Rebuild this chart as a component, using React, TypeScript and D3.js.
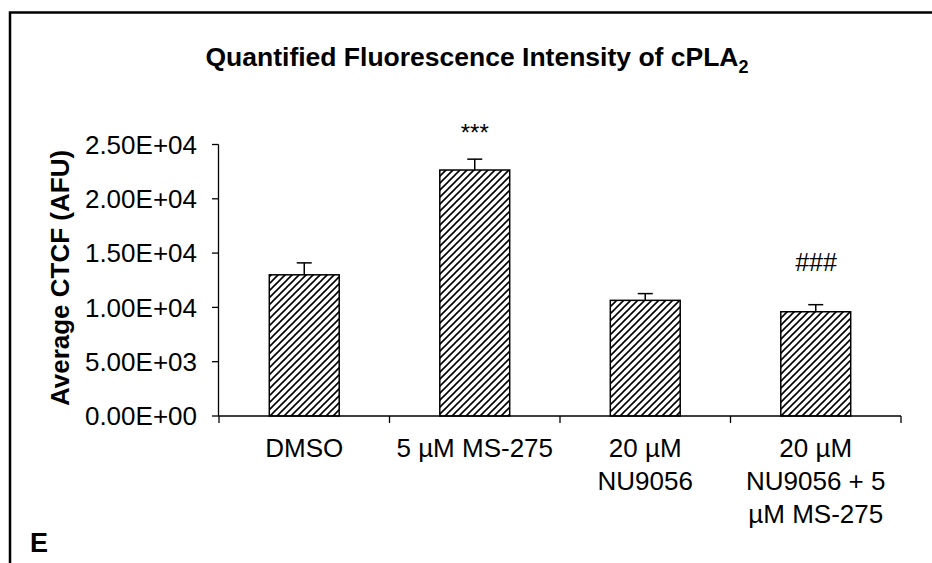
import React from "react";
import * as d3 from "d3";

const categories: string[][] = [
  ["DMSO"],
  ["5 µM MS-275"],
  ["20 µM", "NU9056"],
  ["20 µM", "NU9056 + 5", "µM MS-275"],
];
const categoryKeys = ["DMSO", "MS-275", "NU9056", "NU9056+MS-275"];
const means = [13000, 22650, 10650, 9600];
const errors = [1100, 1000, 620, 650];
const significance = ["", "***", "", "###"];
const yTicks = [0, 5000, 10000, 15000, 20000, 25000];

const W = 932;
const H = 563;
const FONT = "'Liberation Sans', Arial, Helvetica, sans-serif";

function sci(v: number): string {
  if (v === 0) return "0.00E+00";
  const e = Math.floor(Math.log10(Math.abs(v)));
  const m = v / Math.pow(10, e);
  const sign = e < 0 ? "-" : "+";
  const ee = String(Math.abs(e)).padStart(2, "0");
  return `${m.toFixed(2)}E${sign}${ee}`;
}

export default function App() {
  const x = d3
    .scaleBand<string>()
    .domain(categoryKeys)
    .range([219, 901])
    .paddingInner(0.59)
    .paddingOuter(0.295);
  const y = d3.scaleLinear().domain([0, 25000]).range([416, 144.5]);
  const step = x.step();
  const boundaries = d3.range(categoryKeys.length + 1).map((i) => 219 + i * step);

  return (
    <div style={{ position: "absolute", left: 0, top: 0, width: W, height: H, background: "#fff" }}>
      <svg width={W} height={H} style={{ display: "block" }} fontFamily={FONT}>
        <defs>
          <pattern id="hatch" width="7" height="7" patternUnits="userSpaceOnUse">
            <rect width="7" height="7" fill="#fff" />
            <path d="M-1,1 L1,-1 M0,7 L7,0 M6,8 L8,6" stroke="#000" strokeWidth="1.6" />
          </pattern>
        </defs>
        {/* frame */}
        <path d={`M10,${H + 5} L10,12.5 L${W + 5},12.5`} fill="none" stroke="#000" strokeWidth={2.5} />

        {/* title */}
        <text x={477} y={66} textAnchor="middle" fontWeight="bold" fontSize={26.5}>
          Quantified Fluorescence Intensity of cPLA
          <tspan fontSize={18} dy={7}>2</tspan>
        </text>

        {/* y axis */}
        <line x1={218.5} x2={218.5} y1={y(25000)} y2={y(0)} stroke="#000" strokeWidth={1.3} />
        {yTicks.map((t) => (
          <g key={t}>
            <line x1={212} x2={218.5} y1={y(t)} y2={y(t)} stroke="#000" strokeWidth={1.3} />
            <text x={197} y={y(t)} dy="0.36em" textAnchor="end" fontSize={26}>
              {sci(t)}
            </text>
          </g>
        ))}
        <text
          transform={`translate(69,278) rotate(-90)`}
          textAnchor="middle"
          fontWeight="bold"
          fontSize={26}
        >
          Average CTCF (AFU)
        </text>

        {/* bars */}
        {categoryKeys.map((k, i) => {
          const bx = x(k)!;
          const bw = x.bandwidth();
          const cx = bx + bw / 2;
          return (
            <g key={k}>
              <line x1={cx} x2={cx} y1={y(means[i])} y2={y(means[i] + errors[i])} stroke="#000" strokeWidth={1.5} />
              <line x1={cx - 7.5} x2={cx + 7.5} y1={y(means[i] + errors[i])} y2={y(means[i] + errors[i])} stroke="#000" strokeWidth={1.5} />
              <rect
                x={bx}
                y={y(means[i])}
                width={bw}
                height={y(0) - y(means[i])}
                fill="url(#hatch)"
                stroke="#000"
                strokeWidth={1.5}
              />
              {significance[i] && (
                <text
                  x={cx}
                  y={significance[i] === "***" ? 141 : 271}
                  textAnchor="middle"
                  fontSize={significance[i] === "***" ? 24 : 25}
                  fontStyle={significance[i] === "###" ? "italic" : "normal"}
                >
                  {significance[i]}
                </text>
              )}
            </g>
          );
        })}

        {/* x axis */}
        <line x1={218.5} x2={901} y1={416} y2={416} stroke="#000" strokeWidth={1.3} />
        {boundaries.map((b, i) => (
          <line key={i} x1={b} x2={b} y1={416} y2={423} stroke="#000" strokeWidth={1.3} />
        ))}
        {categoryKeys.map((k, i) => {
          const cx = x(k)! + x.bandwidth() / 2;
          return (
            <text key={k} x={cx} y={457} textAnchor="middle" fontSize={26}>
              {categories[i].map((line, j) => (
                <tspan key={j} x={cx} dy={j === 0 ? 0 : 33}>
                  {line}
                </tspan>
              ))}
            </text>
          );
        })}

        {/* panel letter */}
        <text x={30} y={552} fontWeight="bold" fontSize={27}>
          E
        </text>
      </svg>
    </div>
  );
}
